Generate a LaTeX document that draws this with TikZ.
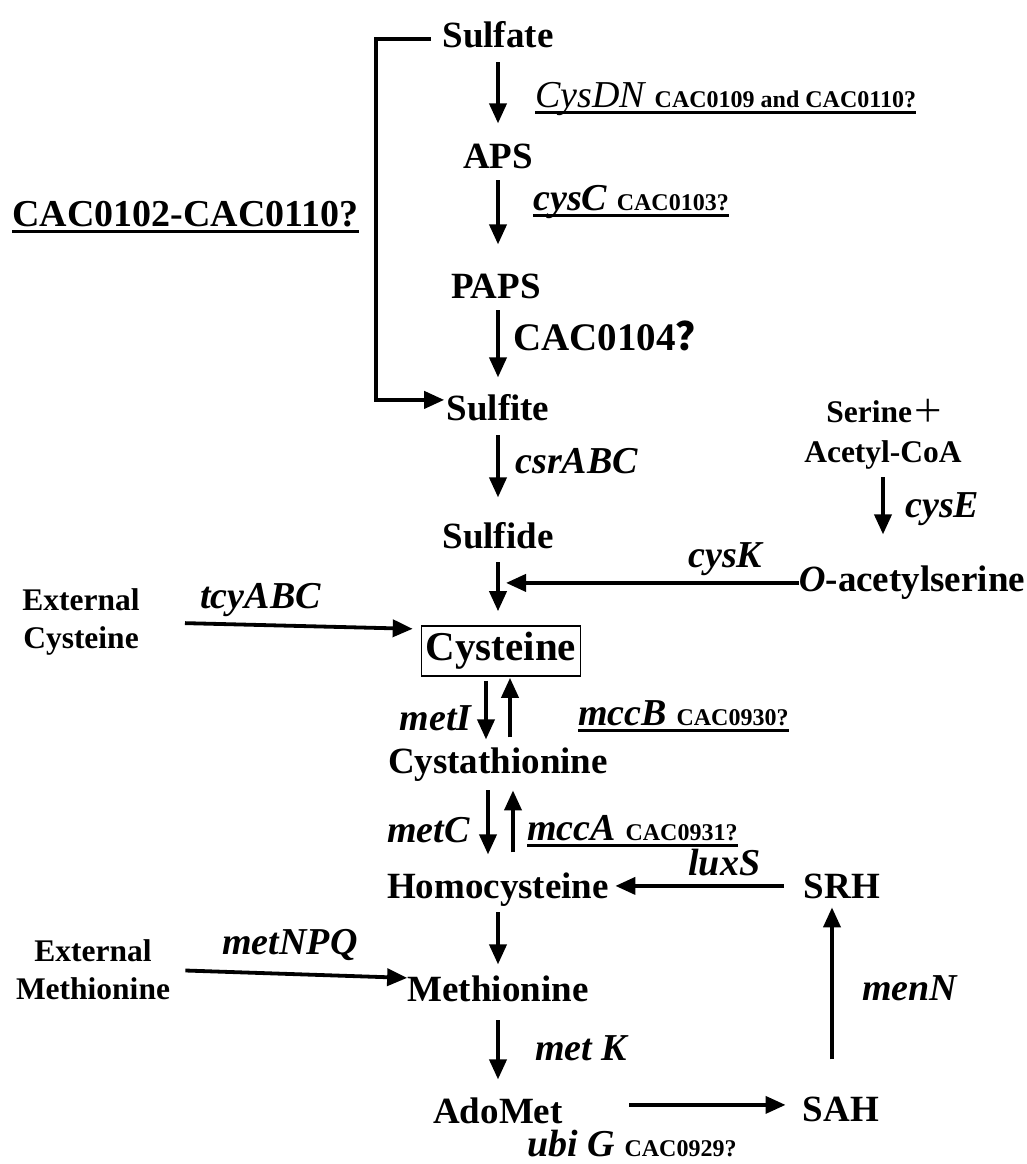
\documentclass[tikz,border=0pt]{standalone}
\usepackage{fontspec}
\setmainfont{Liberation Serif}
\newfontfamily\cjk{Noto Sans CJK SC}
\usepackage{tikz}
\usetikzlibrary{arrows.meta, positioning, calc}

\newcommand{\codetag}[1]{{\fontsize{12}{14}\selectfont\bfseries\upshape #1}}
\newcommand{\geneul}[1]{\setbox0=\hbox{#1}\rlap{\rule[-3.5pt]{\wd0}{1.5pt}}\box0}

\begin{document}
\begin{tikzpicture}[
  x=0.5pt, y=-0.5pt,
  metab/.style={font=\fontsize{18.5}{21}\selectfont\bfseries, inner sep=0pt, text height=12.6pt, text depth=4.5pt, anchor=base},
  minor/.style={font=\fontsize{15.75}{19}\selectfont\bfseries, inner sep=0pt, align=center},
  gene/.style={font=\fontsize{19}{22}\selectfont\bfseries\itshape, inner sep=0pt, anchor=base west},
  rxn/.style={line width=1.9pt, -{Triangle[length=10pt,width=8.5pt]}},
]
\useasboundingbox (0,0) rectangle (1027,1164);

% --- sulfate assimilation ---
\node[metab] (sulfate) at (498,47) {Sulfate};
\node[metab] (aps) at (498,168) {APS};
\node[metab] (paps) at (496,298) {PAPS};
\node[metab] (sulfite) at (498,420) {Sulfite};
\node[metab] (sulfide) at (498,548) {Sulfide};

\node[gene] (lblcysdn) at (535,107) {\geneul{{\mdseries CysDN} \codetag{CAC0109 and CAC0110?}}};
\node[gene] (lblcysc) at (533,210) {\geneul{cysC \codetag{CAC0103?}}};
\node[gene, font=\fontsize{19.5}{23}\selectfont\bfseries] (lblpaps) at (513,350) {CAC0104{\cjk ？}};
\node[gene, font=\fontsize{19}{23}\selectfont\bfseries] (lbloperon) at (12,226) {\geneul{CAC0102-CAC0110?}};
\node[gene] (lblcsr) at (515,473) {csrABC};

\draw[rxn, shorten <=3pt, shorten >=9.5pt] (sulfate) -- (aps);
\draw[rxn, shorten <=1.5pt, shorten >=14pt] (aps) -- (aps |- paps.north);
\draw[rxn, shorten <=1.5pt, shorten >=8.5pt] (paps.south -| aps) -- (sulfite);
\draw[rxn, shorten <=3pt, shorten >=12.5pt] (sulfite) -- (sulfide);
\draw[rxn, shorten <=5.5pt, shorten >=1pt] (sulfate.west) -- ++(-33pt,0) |- ([yshift=6pt]sulfite.west);

% --- serine branch ---
\node[minor, anchor=base] (serine) at (885,422) {Serine{\cjk\mdseries ＋}};
\node[minor, anchor=base] (acetyl) at (883,462) {Acetyl-CoA};
\node[metab] (oacetyl) at (912,591) {\textit{O}-acetylserine};
\node[gene] (lblcyse) at (905,517) {cysE};
\node[gene] (lblcysk) at (688,567) {cysK};

\draw[rxn, shorten <=4pt, shorten >=15.5pt] (acetyl.south) -- (acetyl.south |- oacetyl.north);
\draw[rxn, shorten >=4pt] (oacetyl.west) -- (oacetyl.west -| sulfide.south);

% --- cysteine / methionine ---
\node[draw, line width=0.8pt, minimum width=79.5pt, minimum height=25pt, inner sep=0pt,
  font=\fontsize{20.5}{24}\selectfont\bfseries] (cysteine) at (501,651) {Cysteine};
\node[minor] (extcys) at (81,622) {External\\Cysteine};
\node[gene] (lbltcy) at (200,608) {tcyABC};
\draw[rxn, shorten <=2.5pt, shorten >=7pt] (sulfide) -- (sulfide |- cysteine.north);
\draw[rxn, shorten <=22.5pt, shorten >=4pt] (extcys.east) -- ([yshift=11pt]cysteine.west);

\node[metab] (cysta) at (498,773) {Cystathionine};
\node[metab] (homocys) at (498,898) {Homocysteine};
\node[metab] (methionine) at (498,1001) {Methionine};
\node[metab] (adomet) at (498,1123) {AdoMet};
\node[metab] (sah) at (841,1121) {SAH};
\node[metab] (srh) at (842,898) {SRH};
\node[minor] (extmet) at (93,970) {External\\Methionine};

\node[gene, anchor=base east] (lblmeti) at (472,730) {metI};
\node[gene] (lblmccb) at (578,725) {\geneul{mccB \codetag{CAC0930?}}};
\node[gene, anchor=base east] (lblmetc) at (470,842) {metC};
\node[gene] (lblmcca) at (527,840) {\geneul{mccA \codetag{CAC0931?}}};
\node[gene] (lblluxs) at (688,875) {luxS};
\node[gene] (lblmetnpq) at (222,954) {metNPQ};
\node[gene] (lblmenn) at (862,1000) {menN};
\node[gene] (lblmetk) at (535,1060) {met K};
\node[gene] (lblubig) at (527,1156) {ubi G \codetag{CAC0929?}};

\draw[rxn, shorten <=2pt, shorten >=4pt] ([xshift=-6pt]cysta.north |- cysteine.south) -- ([xshift=-6pt]cysta.north);
\draw[rxn, shorten <=5pt, shorten >=0.5pt] ([xshift=6pt]cysta.north) -- ([xshift=6pt]cysta.north |- cysteine.south);
\draw[rxn, shorten <=4pt, shorten >=9pt] ([xshift=-5pt]cysta.south) -- ([xshift=-5pt]homocys.north);
\draw[rxn, shorten <=10pt, shorten >=4pt] ([xshift=7.5pt]homocys.north) -- ([xshift=7.5pt]cysta.south);
\draw[rxn, shorten <=2.5pt, shorten >=5.5pt] (homocys) -- (methionine);
\draw[rxn, shorten <=5pt, shorten >=9pt] (methionine) -- (adomet);
\draw[rxn, shorten <=7.5pt] (extmet.east) -- ([yshift=7.5pt]methionine.west);
\draw[rxn, shorten <=33pt, shorten >=8.5pt] ([yshift=5pt]adomet.east) -- ([yshift=5pt]adomet.east -| sah.west);
\draw[rxn, shorten <=18pt] ([xshift=-4.5pt]sah.north) -- ([xshift=-4.5pt]sah.north |- srh.south);
\draw[rxn, shorten <=10pt, shorten >=3pt] ([yshift=2pt]srh.west) -- ([yshift=2pt]srh.west -| homocys.east);

\end{tikzpicture}
\end{document}
